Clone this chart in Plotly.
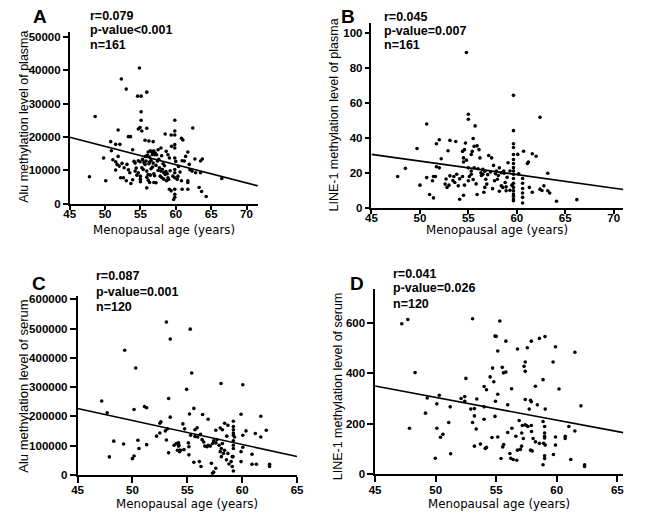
import plotly.graph_objects as go

# ---- data ----
# A: Alu methylation level of plasma vs menopausal age
a_age = [47.8, 48.6, 49.8, 50.1, 50.8, 50.9, 51.1, 51.5, 51.5, 51.7, 51.5, 51.85, 51.85, 52.0, 52.1, 52.2,
         52.3, 52.4, 52.6, 52.7, 53.0, 53.0, 53.1, 53.3, 53.3, 53.5, 53.6, 53.65, 53.9, 53.9, 54.1, 54.25,
         54.25, 54.4, 54.5, 54.6, 54.7, 54.7, 54.7, 54.86, 54.95, 54.95, 55.0, 55.0, 55.0, 55.1, 55.1, 55.1,
         55.2, 55.2, 55.3, 55.4, 55.5, 55.65, 55.65, 55.7, 55.8, 55.9, 55.9, 55.9, 55.9, 55.9, 56.0, 56.1,
         56.1, 56.1, 56.2, 56.2, 56.3, 56.3, 56.3, 56.4, 56.4, 56.5, 56.5, 56.6, 56.7, 56.7, 56.8, 56.8,
         56.8, 56.9, 56.9, 56.9, 57.0, 57.0, 57.1, 57.2, 57.2, 57.3, 57.4, 57.5, 57.5, 57.6, 57.7, 57.8,
         57.9, 57.9, 58.0, 58.0, 58.1, 58.2, 58.3, 58.3, 58.4, 58.5, 58.5, 58.6, 58.65, 58.7, 58.8, 58.9,
         58.9, 59.0, 59.1, 59.1, 59.2, 59.35, 59.4, 59.35, 59.6, 59.86, 59.86, 59.86, 59.86, 59.86, 59.86,
         59.86, 59.86, 59.86, 59.86, 59.86, 59.86, 59.7, 60.0, 60.2, 60.3, 60.4, 60.6, 60.8, 60.8, 60.9,
         60.9, 61.0, 61.2, 61.4, 61.7, 61.7, 61.7, 61.7, 61.9, 62.0, 62.3, 62.4, 62.7, 62.8, 63.3, 63.5,
         63.5, 63.65, 63.75, 64.3, 66.5]
a_alu = [8100, 26100, 13700, 6900, 18600, 15900, 13200, 12600, 17800, 11800, 10100, 14200, 22100, 11300, 17800, 7800,
         37300, 12100, 7800, 10800, 34300, 6900, 11800, 20100, 10200, 9300, 20100, 6100, 16200, 7200, 12700, 12200,
         9800, 10700, 8600, 32200, 22400, 12900, 9300, 40600, 22800, 12600, 8300, 7400, 6600, 32200, 27500, 25000,
         21800, 10800, 13300, 10300, 12400, 19000, 11800, 14200, 12800, 33400, 22600, 9800, 8000, 4800, 14500, 7100,
         8800, 15500, 18800, 12000, 6400, 12500, 14000, 15900, 8600, 13000, 10500, 15600, 14800, 11000, 18600, 15700,
         12200, 6400, 15800, 9000, 14700, 8400, 15200, 6300, 11500, 14700, 12800, 16200, 10000, 13300, 10800, 8300,
         16700, 9800, 7900, 14400, 10300, 12000, 9300, 7400, 11400, 20900, 8800, 9700, 15700, 6900, 9000, 14700,
         7800, 7300, 13700, 4400, 9900, 20600, 17200, 3900, 8300, 25000, 21800, 20600, 17700, 16700, 13700,
         10300, 9300, 7800, 4400, 2900, 2000, 1300, 12700, 7400, 8300, 11200, 9500, 19600, 6900, 12900,
         4400, 19100, 12800, 14200, 15500, 6900, 4400, 6400, 11800, 10200, 9800, 22700, 13400, 9300, 4900, 12800,
         9300, 3700, 13400, 2200, 7600]

# B: LINE-1 methylation level of plasma vs menopausal age
b_age = [47.7, 48.5, 49.7, 50.0, 50.7, 50.7, 51.0, 51.3, 51.4, 51.4, 51.6, 51.7, 51.7, 52.0, 52.0, 52.2,
         52.6, 52.7, 52.8, 52.9, 53.0, 53.1, 53.1, 53.4, 53.5, 53.6, 53.7, 53.8, 53.96, 54.1, 54.1, 54.4,
         54.4, 54.5, 54.5, 54.5, 54.6, 54.6, 54.7, 54.8, 54.8, 55.0, 55.0, 55.0, 55.0, 55.1, 55.3, 55.3,
         55.3, 55.4, 55.5, 55.5, 55.6, 55.6, 55.7, 55.8, 55.9, 55.9, 56.0, 56.1, 56.2, 56.3, 56.35, 56.5,
         56.5, 56.6, 56.7, 56.7, 56.8, 56.9, 57.0, 57.1, 57.3, 57.4, 57.5, 57.6, 57.7, 57.8, 57.9, 58.0,
         58.1, 58.2, 58.2, 58.4, 58.4, 58.55, 58.65, 58.7, 58.8, 58.9, 58.9, 59.0, 59.1, 59.3, 59.3, 59.5,
         59.66, 59.66, 59.66, 59.66, 59.66, 59.66, 59.66, 59.66, 59.66, 59.66, 59.66, 59.66, 59.66, 59.66,
         59.66, 59.66, 59.66, 59.66, 60.1, 60.2, 60.6, 60.6, 60.6, 60.6, 60.6, 60.6, 60.7, 61.1, 61.2,
         61.3, 61.6, 61.6, 62.0, 62.4, 62.4, 62.6, 62.8, 63.2, 63.2, 63.4, 64.1, 66.2]
b_line1 = [17.9, 22.6, 34.0, 13.0, 48.0, 17.3, 7.6, 15.5, 17.9, 5.7, 17.9, 36.7, 23.5, 39.0, 22.9, 28.1,
           13.6, 16.5, 11.7, 32.7, 13.0, 38.6, 18.3, 15.6, 17.9, 14.5, 38.0, 19.2, 12.6, 16.6, 4.9, 32.3,
           17.9, 7.2, 28.6, 26.2, 33.3, 13.0, 37.1, 88.9, 27.3, 53.6, 50.7, 22.9, 15.5, 17.9, 30.5, 19.2,
           21.1, 32.3, 39.7, 16.2, 35.2, 22.9, 46.9, 13.7, 35.5, 7.6, 22.4, 33.3, 28.6, 20.1, 18.5, 22.0,
           19.2, 8.9, 21.0, 11.7, 16.4, 13.6, 19.0, 30.0, 20.5, 28.6, 11.0, 24.3, 15.5, 19.5, 21.1, 16.4,
           18.5, 22.9, 9.5, 20.1, 12.6, 11.7, 21.1, 19.8, 14.5, 9.8, 12.0, 17.5, 25.8, 21.1, 10.0, 13.0,
           64.4, 44.2, 36.7, 34.5, 30.5, 27.7, 25.4, 23.0, 21.1, 19.2, 16.8, 14.1, 11.7, 9.8,
           7.9, 6.6, 5.1, 4.1, 30.6, 19.5, 16.8, 14.1, 11.1, 8.5, 6.0, 2.8, 32.4, 25.4, 26.2,
           11.7, 8.9, 31.0, 29.5, 51.8, 10.7, 9.9, 12.6, 19.8, 9.8, 8.5, 3.8, 4.7]

# C: Alu methylation level of serum vs menopausal age
c_age = [53.1, 53.45, 49.3, 50.3, 47.2, 47.7, 50.15, 51.1, 51.3, 53.3, 53.45, 52.5, 52.6, 53.2, 53.0, 52.5,
         52.2, 48.3, 49.2, 50.5, 51.3, 50.6, 53.1, 47.9, 50.0, 50.15, 53.3, 53.8, 54.0, 54.2, 54.2, 54.3,
         54.3, 55.27, 55.4, 54.94, 58.07, 60.06, 55.6, 55.2, 56.4, 56.9, 59.9, 61.7, 54.6, 54.76, 55.7, 55.9,
         58.4, 58.7, 59.2, 59.2, 59.2, 59.2, 59.2, 60.35, 61.2, 61.7, 62.2, 57.6, 58.0, 58.2, 58.6, 59.3,
         60.06, 54.1, 54.25, 54.1, 54.4, 54.7, 55.1, 55.15, 55.3, 55.7, 55.95, 56.2, 56.35, 56.5, 56.6, 56.8,
         56.9, 57.1, 57.3, 57.4, 57.6, 57.7, 57.9, 58.1, 58.2, 58.4, 58.7, 59.1, 59.2, 59.2, 59.2, 59.9,
         60.06, 55.15, 55.6, 56.1, 56.25, 57.2, 57.6, 57.3, 57.4, 58.0, 58.1, 58.3, 58.57, 58.8, 59.1, 59.17,
         59.0, 59.2, 59.9, 60.9, 60.9, 61.3, 62.5, 62.5]
c_alu = [522000, 464000, 426000, 365000, 252000, 212000, 223000, 233000, 229000, 261000, 197000, 176000, 181000, 157000, 150000, 143000,
         132000, 115000, 105000, 118000, 103000, 90000, 119000, 61000, 55000, 64000, 75000, 101000, 107000, 109000, 98000, 84000,
         79000, 498000, 348000, 292000, 312000, 308000, 227000, 208000, 206000, 190000, 207000, 200000, 174000, 157000, 154000, 161000,
         176000, 169000, 183000, 165000, 154000, 143000, 135000, 150000, 141000, 129000, 152000, 152000, 160000, 154000, 132000, 129000,
         135000, 107000, 101000, 84000, 84000, 86000, 109000, 96000, 135000, 131000, 129000, 138000, 120000, 112000, 98000, 96000,
         101000, 98000, 107000, 116000, 109000, 120000, 101000, 90000, 107000, 84000, 73000, 62000, 116000, 101000, 90000, 79000,
         94000, 68000, 43000, 45000, 28000, 39000, 22000, 5000, 9000, 79000, 62000, 73000, 51000, 37000, 28000, 62000,
         45000, 13000, 45000, 70000, 36000, 36000, 36000, 28000]

# D: LINE-1 methylation level of serum vs menopausal age
d_age = [47.2, 47.7, 53.05, 54.9, 48.3, 52.5, 54.7, 54.5, 54.8, 54.0, 54.2, 49.3, 50.3, 50.1, 51.2, 52.1,
         52.4, 52.4, 53.4, 52.9, 53.2, 54.0, 54.94, 54.9, 49.16, 53.2, 53.05, 54.0, 53.35, 51.08, 50.1, 50.6,
         50.4, 47.84, 51.24, 49.97, 53.2, 53.7, 54.2, 54.1, 54.65, 55.3, 55.0, 55.8, 56.76, 57.57, 57.9, 58.57,
         59.03, 59.9, 61.5, 55.13, 55.5, 55.6, 55.8, 57.3, 57.4, 57.4, 59.7, 58.87, 56.27, 58.24, 60.19, 55.13,
         55.95, 57.4, 57.84, 57.9, 58.4, 59.05, 57.73, 62.0, 56.9, 57.16, 57.38, 57.5, 57.62, 57.9, 58.87, 59.0,
         61.0, 61.5, 56.3, 55.95, 56.62, 57.11, 57.24, 57.92, 58.05, 58.24, 58.57, 58.92, 59.05, 59.0, 59.0, 59.0,
         59.9, 60.7, 60.7, 59.9, 59.73, 55.13, 55.54, 55.62, 56.13, 56.4, 56.76, 57.1, 57.84, 57.97, 59.0, 59.0,
         58.87, 61.16, 62.3, 62.3, 55.4, 56.2, 56.7, 57.0]
d_line1 = [597, 614, 617, 548, 403, 380, 421, 386, 367, 348, 335, 302, 313, 279, 267, 300,
           308, 289, 298, 258, 260, 267, 289, 229, 242, 231, 205, 218, 179, 205, 182, 158,
           146, 182, 81, 63, 111, 119, 106, 102, 145, 608, 547, 528, 497, 502, 528, 539,
           546, 506, 484, 489, 424, 402, 405, 428, 445, 408, 445, 375, 339, 349, 338, 317,
           275, 296, 293, 287, 275, 258, 258, 271, 213, 193, 196, 193, 189, 193, 209, 189,
           189, 171, 182, 165, 150, 163, 141, 169, 141, 128, 122, 122, 115, 163, 150, 143,
           147, 150, 141, 115, 78, 147, 108, 117, 82, 58, 95, 111, 95, 92, 73, 62,
           37, 58, 37, 30, 62, 63, 55, 98]

# fitted regression lines (intercept, slope) as drawn in each panel
fit_a = (44450, -545.5)
fit_b = (65.4, -0.773)
fit_c = (595500, -8200)
fit_d = (755.5, -9.02)

panels = [
    # letter, x, y, fit, xrange, yrange, ydtick, stats, y title
    ("A", a_age, a_alu, fit_a, [45, 71.6], [0, 51500], 10000, ["r=0.079", "p-value<0.001", "n=161"],
     "Alu methylation level of plasma"),
    ("B", b_age, b_line1, fit_b, [45, 71], [0, 105.6], 20, ["r=0.045", "p-value=0.007", "n=161"],
     "LINE-1 methylation level of plasma"),
    ("C", c_age, c_alu, fit_c, [45, 65], [0, 612000], 100000, ["r=0.087", "p-value=0.001", "n=120"],
     "Alu methylation level of serum"),
    ("D", d_age, d_line1, fit_d, [45, 65.5], [0, 734], 200, ["r=0.041", "p-value=0.026", "n=120"],
     "LINE-1 methylation level of serum"),
]

W, H = 646, 530
# pixel boxes of each plot area: left, right, bottom, top
boxes = [(65, 257, 205, 30), (373, 630, 209, 21.7), (73, 297, 480, 298.3), (376.7, 630, 479.3, 291.7)]
letter_pos = [(35, 14.5), (349.5, 15), (34, 286), (358.5, 286)]
stats_pos = [(83.3, [14, 28.3, 43.3]), (383.3, [15, 29.3, 43.3]), (89.3, [278.3, 294, 309.3]),
             (393.3, [276, 290.7, 306.7])]
ytitle_pos = [(19, 117, 12.5), (335, 115, 12.5), (17, 390, 13), (339, 390, 12.5)]
xtitle_y = [231, 232, 510, 510]
tick_len = [4, 4, 6, 6]
xlab_shift = [-5, -5, -2, -2]

BOLD = "Liberation Sans"
fig = go.Figure()
annotations = []


def note(px, py, text, **kw):
    annotations.append(dict(x=px / W, y=1 - py / H, xref="paper", yref="paper", text=text,
                            showarrow=False, **kw))


for i, (letter, xs, ys, fit, xr, yr, ydt, stats, ytitle) in enumerate(panels):
    n = "" if i == 0 else str(i + 1)
    xa, ya = "x" + n, "y" + n
    fig.add_trace(go.Scatter(x=xs, y=ys, mode="markers", xaxis=xa, yaxis=ya, cliponaxis=False,
                             marker=dict(color="black", size=3.6), showlegend=False))
    b0, b1 = fit
    fig.add_trace(go.Scatter(x=xr, y=[b0 + b1 * v for v in xr], mode="lines", xaxis=xa, yaxis=ya,
                             line=dict(color="black", width=1.6), showlegend=False))
    l, r, bot, top = boxes[i]
    common = dict(showline=True, linecolor="black", linewidth=1.5, ticks="outside",
                  tickwidth=1.5, tickcolor="black", showgrid=False, zeroline=False, tickformat="d",
                  tickfont=dict(family=BOLD, size=11.5, color="black", weight="bold"))
    fig.update_layout(**{
        "xaxis" + n: dict(domain=[l / W, r / W], range=xr, anchor=ya, tick0=45, dtick=5,
                          ticklen=tick_len[i], ticklabelstandoff=xlab_shift[i], **common),
        "yaxis" + n: dict(domain=[1 - bot / H, 1 - top / H], range=yr, anchor=xa, tick0=0, dtick=ydt,
                          ticklen=5 if i < 2 else 6, **common),
    })
    lx, ly = letter_pos[i]
    note(lx, ly, letter, xanchor="center", yanchor="middle",
         font=dict(family=BOLD, size=19, color="black", weight="bold"))
    sx, sys_ = stats_pos[i]
    for txt, sy in zip(stats, sys_):
        note(sx, sy, txt, xanchor="left", yanchor="middle",
             font=dict(family=BOLD, size=12.5, color="black", weight="bold"))
    tx, ty, tsz = ytitle_pos[i]
    note(tx, ty, ytitle, textangle=-90, xanchor="center", yanchor="middle",
         font=dict(family="Liberation Sans", size=tsz, color="black"))
    note((l + r) / 2, xtitle_y[i], "Menopausal age (years)", xanchor="center", yanchor="middle",
         font=dict(family="DejaVu Sans", size=11.8, color="black"))

fig.update_layout(width=W, height=H, margin=dict(l=0, r=0, t=0, b=0), plot_bgcolor="white",
                  paper_bgcolor="white", annotations=annotations)
fig.write_html("out.html", config={"displayModeBar": False},
               post_script="document.body.style.margin='0';")
